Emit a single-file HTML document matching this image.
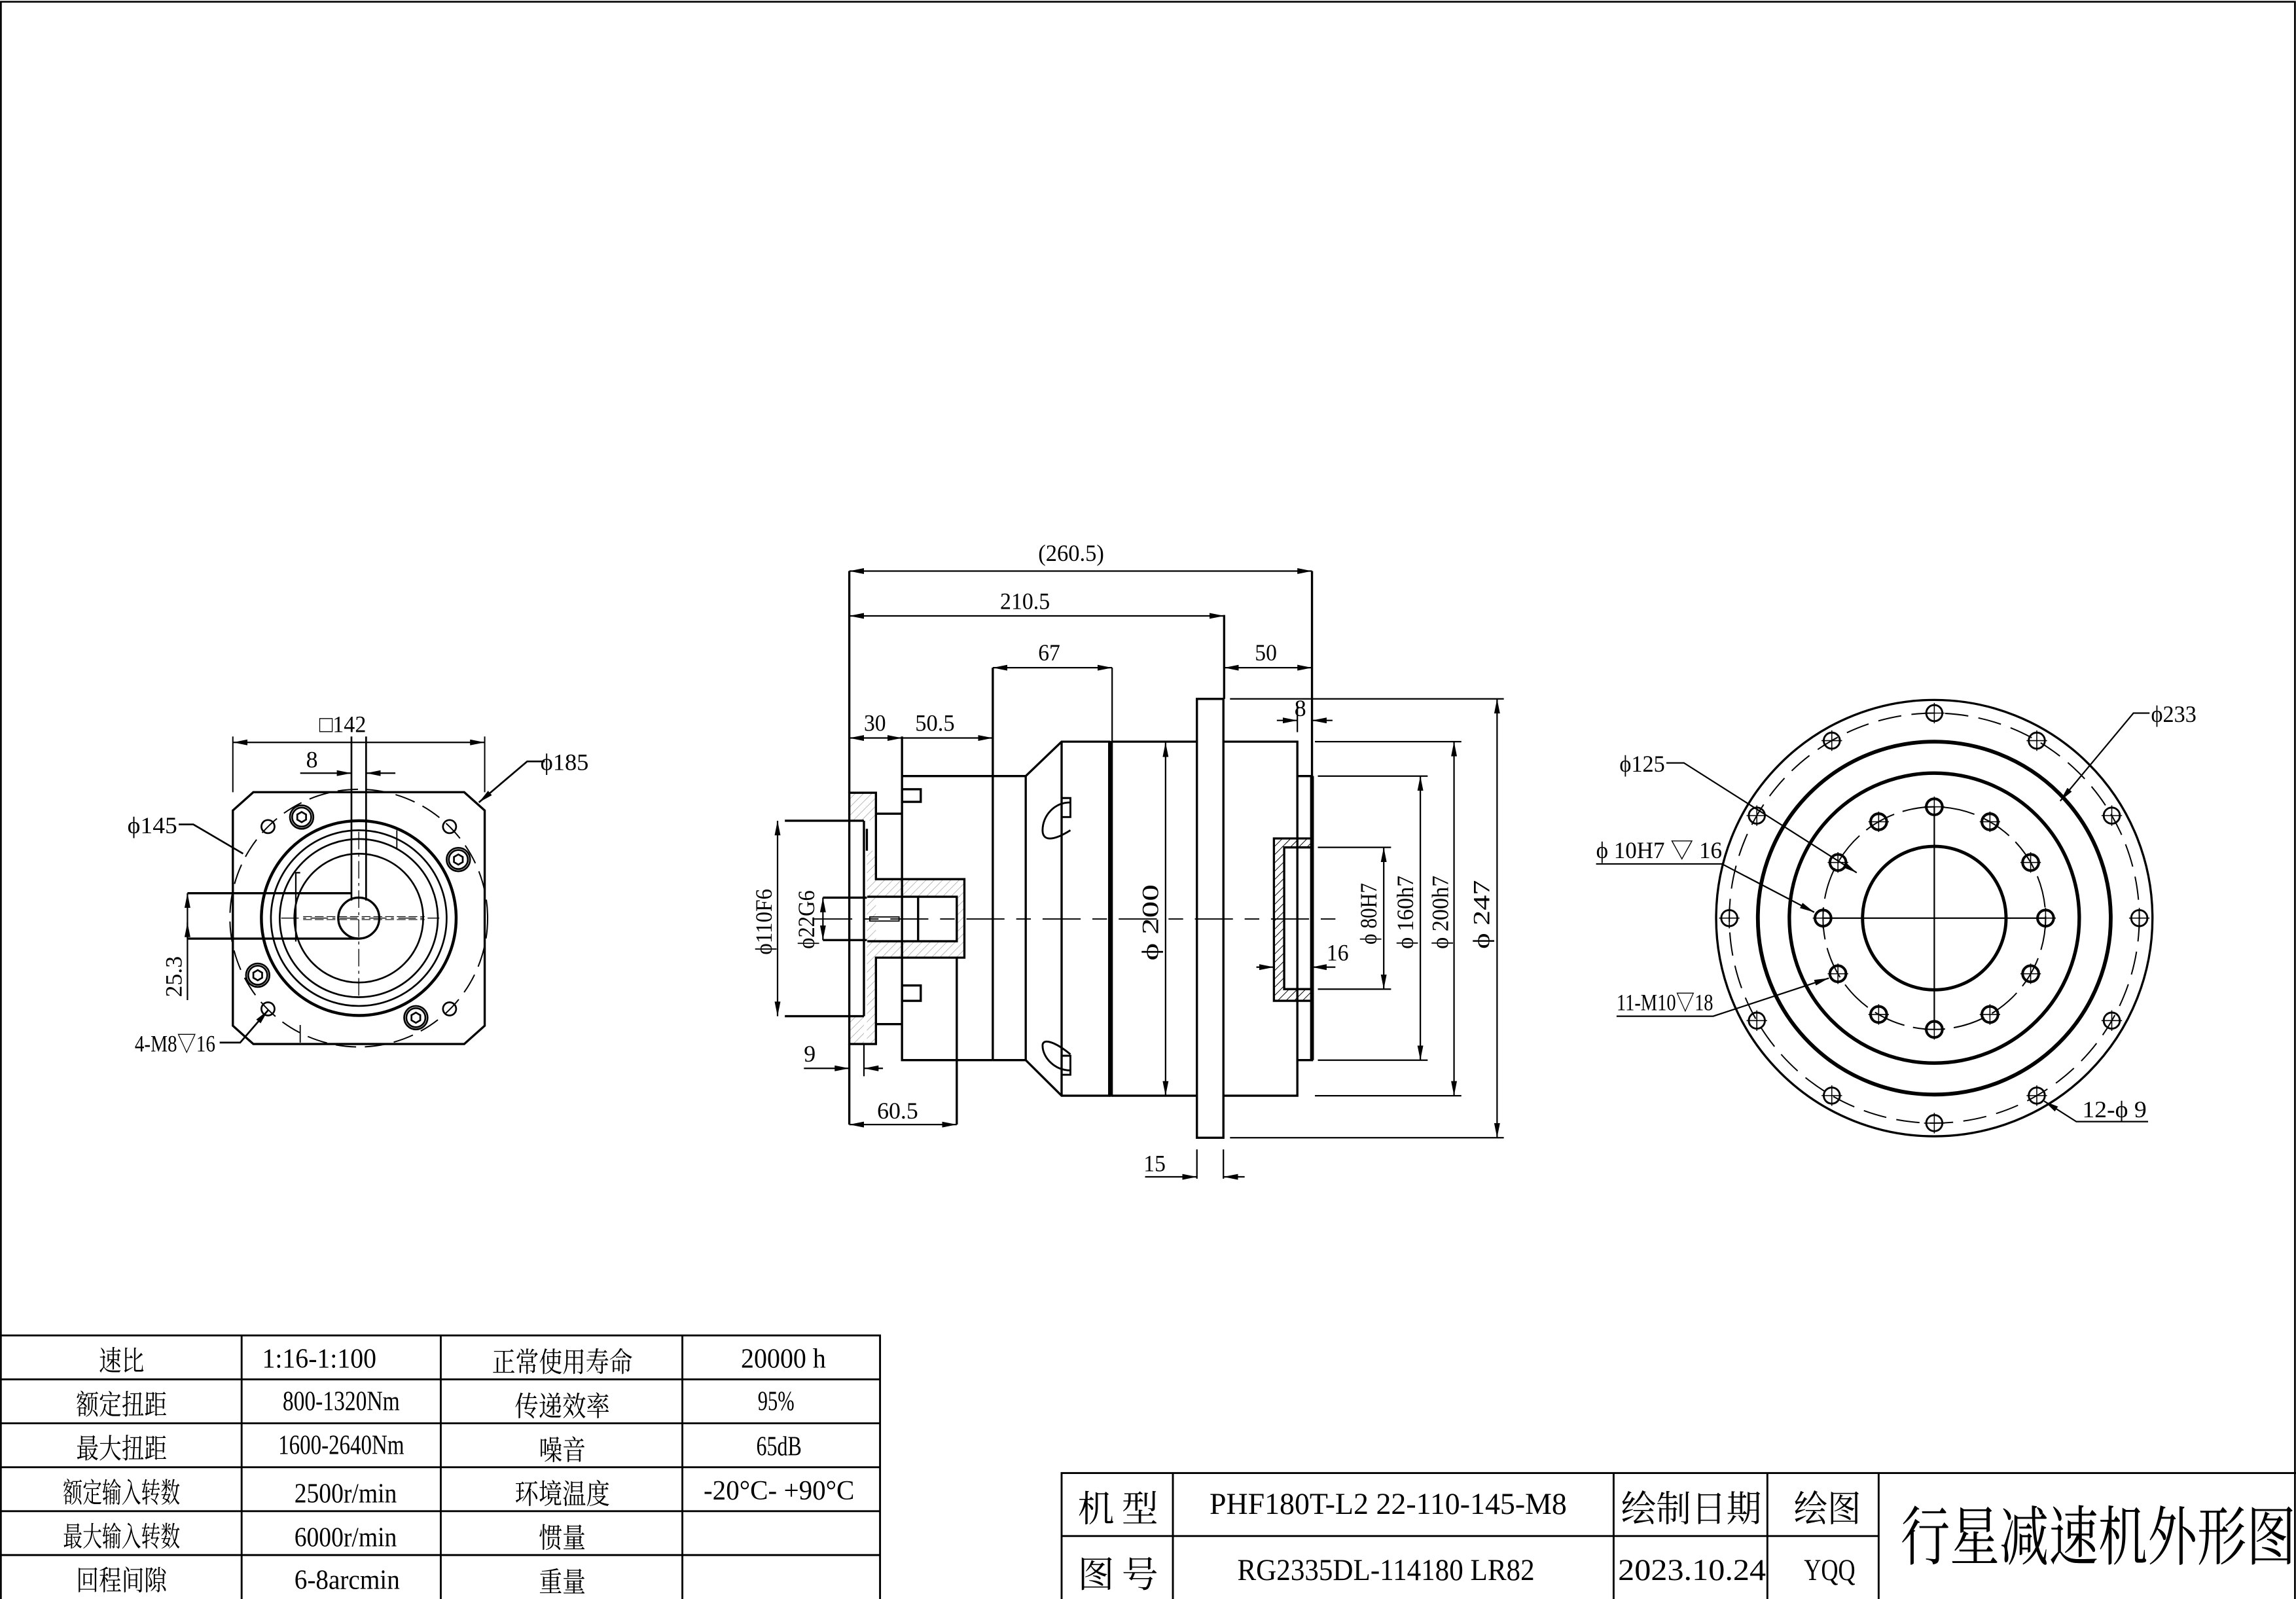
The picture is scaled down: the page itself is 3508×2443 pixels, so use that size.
<!DOCTYPE html>
<html><head><meta charset="utf-8"><style>
html,body{margin:0;padding:0;background:#fff}
svg{display:block}
text{font-family:"Liberation Serif","Noto Serif CJK SC","Noto Sans CJK SC",serif;fill:#000}
</style></head><body>
<svg width="3508" height="2443" viewBox="0 0 1568 1092" xmlns="http://www.w3.org/2000/svg">
<defs>
<marker id="a" viewBox="0 0 10 4" refX="10" refY="2" markerWidth="10" markerHeight="4" markerUnits="userSpaceOnUse" orient="auto-start-reverse"><path d="M0,0L10,2L0,4z" fill="#000"/></marker>
<pattern id="h" width="4" height="4" patternUnits="userSpaceOnUse" patternTransform="rotate(45)"><line x1="0" y1="0" x2="0" y2="4" stroke="#999" stroke-width="0.6"/></pattern>
<pattern id="h2" width="4" height="4" patternUnits="userSpaceOnUse" patternTransform="rotate(45)"><line x1="0" y1="0" x2="0" y2="4" stroke="#000" stroke-width="0.9"/></pattern>
</defs>
<rect x="0" y="0" width="1568" height="1092" fill="#fff"/>
<path d="M0.6,1092V1.2H1567.3V1092" fill="none" stroke="#000" stroke-width="1.2"/>

<!-- LEFT VIEW -->
<g fill="none" stroke="#000">
<path d="M173,541H317L331,553.5V700.5L317,713H173L159,700.5V553.5Z" stroke-width="1.5"/>
<circle cx="245" cy="627" r="88" stroke-width="0.9" stroke-dasharray="14,6"/>
<circle cx="245" cy="627" r="66.5" stroke-width="2"/>
<circle cx="245" cy="627" r="60" stroke-width="1.2"/>
<circle cx="245" cy="627" r="54" stroke-width="1.2"/>
<circle cx="245" cy="627" r="44" stroke-width="1.2"/>
<path d="M240,610V596M250,610V596" stroke-width="0.6"/>
<circle cx="245" cy="627" r="14" stroke-width="1.5"/>
<path d="M202,643V596H205" stroke-width="1"/>
<path d="M271,567V580M205,700V712" stroke-width="0.8"/>
<circle cx="183" cy="564.5" r="4.5" stroke-width="1.2"/><circle cx="307" cy="564.5" r="4.5" stroke-width="1.2"/>
<circle cx="183" cy="689" r="4.5" stroke-width="1.2"/><circle cx="307" cy="689" r="4.5" stroke-width="1.2"/>
<g stroke-width="1.2">
<circle cx="206" cy="558" r="8"/><circle cx="206" cy="558" r="6.5"/><path d="M206,554.5l3,1.75v3.5l-3,1.75l-3,-1.75v-3.5z"/>
<circle cx="313" cy="587" r="8"/><circle cx="313" cy="587" r="6.5"/><path d="M313,583.5l3,1.75v3.5l-3,1.75l-3,-1.75v-3.5z"/>
<circle cx="176" cy="666" r="8"/><circle cx="176" cy="666" r="6.5"/><path d="M176,662.5l3,1.75v3.5l-3,1.75l-3,-1.75v-3.5z"/>
<circle cx="284" cy="695" r="8"/><circle cx="284" cy="695" r="6.5"/><path d="M284,691.5l3,1.75v3.5l-3,1.75l-3,-1.75v-3.5z"/>
</g>
<path d="M192,627H300M245,568V680" stroke-width="0.6" stroke-dasharray="12,3,2,3"/>
<path d="M207,626H290M207,628H290" stroke-width="0.5" stroke-dasharray="6,2"/>
<path d="M240,503V615M250,503V615" stroke-width="1.2"/>
<path d="M128,610H240M128,641H245" stroke-width="1.5"/>
<path d="M159,503V541M331,503V541" stroke-width="0.9"/>
<path d="M159,507H331" stroke-width="1" marker-start="url(#a)" marker-end="url(#a)"/>
<path d="M205,528H240" stroke-width="1" marker-end="url(#a)"/>
<path d="M270,528H250" stroke-width="1" marker-end="url(#a)"/>
<path d="M128,610V683" stroke-width="1" marker-start="url(#a)"/>
<path d="M128,641V630" stroke-width="1" marker-end="url(#a)"/>
<path d="M122,563H132L166,583" stroke-width="1.2"/>
<path d="M372,520H360L327,548" stroke-width="1.2" marker-end="url(#a)"/>
<path d="M150,712H164L183,690" stroke-width="1.2" marker-end="url(#a)"/>
</g>
<text x="218" y="500" font-size="16" textLength="32" lengthAdjust="spacingAndGlyphs">□142</text>
<text x="209" y="524" font-size="16" textLength="8" lengthAdjust="spacingAndGlyphs">8</text>
<text x="87" y="569" font-size="16" textLength="34" lengthAdjust="spacingAndGlyphs">ϕ145</text>
<text x="369" y="526" font-size="16" textLength="33" lengthAdjust="spacingAndGlyphs">ϕ185</text>
<text x="92" y="718" font-size="16" textLength="55" lengthAdjust="spacingAndGlyphs">4-M8▽16</text>
<text transform="translate(124,681) rotate(-90)" font-size="16" textLength="28" lengthAdjust="spacingAndGlyphs">25.3</text>

<!-- MIDDLE VIEW -->
<g fill="none" stroke="#000">
<g stroke="none" fill="url(#h)">
<rect x="580" y="541.4" width="18.2" height="19"/>
<rect x="592" y="581" width="6.2" height="132"/>
<rect x="580" y="694" width="10" height="19"/>
<rect x="598" y="600.4" width="60.6" height="12"/>
<rect x="598" y="642" width="60.6" height="12"/>
<rect x="653.4" y="612" width="5.2" height="30"/>
</g>
<g stroke-width="1.5">
<path d="M580,390V541.4M580,713V768"/>
<path d="M580,541.4H598.2V600.4H658.6V654H598.2V713H580Z"/>
<path d="M592,566V581M590,560.5V694"/>
<path d="M598.2,555.7H616M598.2,699.4H616"/>
<path d="M616,503V724H678"/>
<path d="M616,530H678"/>
<rect x="616" y="539" width="12.8" height="8.6"/>
<rect x="616" y="673" width="12.8" height="10.5"/>
<path d="M592.3,612.4H653.4V642.8H592.3"/>
<path d="M627,612.4V642.8"/>
<path d="M653.4,654V768"/>
<path d="M536,560.5H590M536,694H590"/>
<path d="M562,613H592M562,642H592"/>
<rect x="594" y="626.2" width="20" height="2.8" stroke-width="0.8"/>
<path d="M678,456V724M678,530H700.5V724H678"/>
<path d="M700.5,530L725,506.5H757.5V748.3H725L700.5,724"/>
<path d="M725,506.5V748.3"/>
<path d="M759.5,506.5H817.4M759.5,748.3H817.4"/>
<rect x="817.4" y="477.3" width="18.1" height="299.7"/>
<path d="M835.5,506.5H886V748.3H835.5"/>
<path d="M886,530H896V724H886"/>
<path d="M836,420V477.3"/>
<path d="M896,390V530"/>
</g>
<rect x="757.2" y="506" width="2.8" height="243" fill="#000" stroke="none"/>
<path d="M896,530V724" stroke-width="2.6"/>
<path d="M870,572.6H896V683.5H870Z M877,578.7H896V675.5H877Z" fill="url(#h2)" fill-rule="evenodd" stroke="#000" stroke-width="1.5"/>
<path d="M725,545H731V558H725M731,548C720,548 712,557 712,567C712,575 720,574 731,567" stroke-width="1.3"/>
<path d="M725,734H731V721H725M731,731C720,731 712,722 712,714C712,709 720,711 731,720" stroke-width="1.3"/>
<path d="M556,627.6H920" stroke-width="0.8" stroke-dasharray="26,8,10,8"/>
<g stroke-width="1">
<path d="M580,390H896" marker-start="url(#a)" marker-end="url(#a)"/>
<path d="M580,420.6H836" marker-start="url(#a)" marker-end="url(#a)"/>
<path d="M678,456H759.5" marker-start="url(#a)" marker-end="url(#a)"/>
<path d="M759.5,456V506"/>
<path d="M836,456H896" marker-start="url(#a)" marker-end="url(#a)"/>
<path d="M580,504H616" marker-start="url(#a)" marker-end="url(#a)"/>
<path d="M616,504H678" marker-end="url(#a)"/>
<path d="M872,492H886" marker-end="url(#a)"/>
<path d="M910,492H896" marker-end="url(#a)"/>
<path d="M886,482V500"/>
<path d="M549,729.6H580" marker-end="url(#a)"/>
<path d="M603,729.6H590" marker-end="url(#a)"/>
<path d="M590,713V735"/>
<path d="M580,768H653.4" marker-start="url(#a)" marker-end="url(#a)"/>
<path d="M817.4,785V805M835.5,785V805"/>
<path d="M782,803.7H817.4" marker-end="url(#a)"/>
<path d="M850,803.7H835.5" marker-end="url(#a)"/>
<path d="M796,507V748.3" marker-start="url(#a)" marker-end="url(#a)"/>
<path d="M840,477.3H1027M840,777H1027"/>
<path d="M1022.4,477.3V777" marker-start="url(#a)" marker-end="url(#a)"/>
<path d="M898,506.5H998M898,748.3H998"/>
<path d="M993,506.5V748.3" marker-start="url(#a)" marker-end="url(#a)"/>
<path d="M900,530H975M900,724H975"/>
<path d="M970,530V724" marker-start="url(#a)" marker-end="url(#a)"/>
<path d="M900,578.7H950M900,675.5H950"/>
<path d="M945,578.7V675.5" marker-start="url(#a)" marker-end="url(#a)"/>
<path d="M858,660.5H870" marker-end="url(#a)"/>
<path d="M912,660.5H896" marker-end="url(#a)"/>
<path d="M531,560.5V694" marker-start="url(#a)" marker-end="url(#a)"/>
<path d="M562,613V642" marker-start="url(#a)" marker-end="url(#a)"/>
</g>
</g>
<g font-size="16">
<text x="709" y="383" textLength="45" lengthAdjust="spacingAndGlyphs">(260.5)</text>
<text x="683" y="416" textLength="34" lengthAdjust="spacingAndGlyphs">210.5</text>
<text x="709" y="451" textLength="15" lengthAdjust="spacingAndGlyphs">67</text>
<text x="857" y="451" textLength="15" lengthAdjust="spacingAndGlyphs">50</text>
<text x="590" y="499" textLength="15" lengthAdjust="spacingAndGlyphs">30</text>
<text x="625" y="499" textLength="27" lengthAdjust="spacingAndGlyphs">50.5</text>
<text x="884" y="489" textLength="8" lengthAdjust="spacingAndGlyphs">8</text>
<text x="549" y="725" textLength="8" lengthAdjust="spacingAndGlyphs">9</text>
<text x="599" y="764" textLength="28" lengthAdjust="spacingAndGlyphs">60.5</text>
<text x="781" y="800" textLength="15" lengthAdjust="spacingAndGlyphs">15</text>
<text x="906" y="656" textLength="15" lengthAdjust="spacingAndGlyphs">16</text>
<text transform="translate(527,652) rotate(-90)" textLength="45" lengthAdjust="spacingAndGlyphs">ϕ110F6</text>
<text transform="translate(556,648) rotate(-90)" textLength="40" lengthAdjust="spacingAndGlyphs">ϕ22G6</text>
<text transform="translate(791,656) rotate(-90)" textLength="52" lengthAdjust="spacingAndGlyphs">ϕ 200</text>
<text transform="translate(940,645) rotate(-90)" textLength="42" lengthAdjust="spacingAndGlyphs">ϕ 80H7</text>
<text transform="translate(965,648) rotate(-90)" textLength="50" lengthAdjust="spacingAndGlyphs">ϕ 160h7</text>
<text transform="translate(989,648) rotate(-90)" textLength="50" lengthAdjust="spacingAndGlyphs">ϕ 200h7</text>
<text transform="translate(1017,648) rotate(-90)" textLength="47" lengthAdjust="spacingAndGlyphs">ϕ 247</text>
</g>

<!-- RIGHT VIEW -->
<g fill="none" stroke="#000">
<circle cx="1321" cy="627" r="149" stroke-width="1.5"/>
<circle cx="1321" cy="627" r="140" stroke-width="0.9" stroke-dasharray="16,7"/>
<circle cx="1321" cy="627" r="120.5" stroke-width="2.6"/>
<circle cx="1321" cy="627" r="99" stroke-width="2.4"/>
<circle cx="1321" cy="627" r="76" stroke-width="0.9" stroke-dasharray="22,6"/>
<circle cx="1321" cy="627" r="49" stroke-width="2.2"/>
<path d="M1321,551V703M1245,627H1397" stroke-width="1"/>
<g stroke-width="1.3">
<circle cx="1321" cy="487" r="5.5"/><circle cx="1391" cy="505.8" r="5.5"/><circle cx="1442.2" cy="557" r="5.5"/><circle cx="1461" cy="627" r="5.5"/><circle cx="1442.2" cy="697" r="5.5"/><circle cx="1391" cy="748.2" r="5.5"/><circle cx="1321" cy="767" r="5.5"/><circle cx="1251" cy="748.2" r="5.5"/><circle cx="1199.8" cy="697" r="5.5"/><circle cx="1181" cy="627" r="5.5"/><circle cx="1199.8" cy="557" r="5.5"/><circle cx="1251" cy="505.8" r="5.5"/>
</g>
<g stroke-width="1.8">
<circle cx="1321" cy="551" r="5.5"/><circle cx="1359" cy="561.2" r="5.5"/><circle cx="1386.8" cy="589" r="5.5"/><circle cx="1397" cy="627" r="5.5"/><circle cx="1386.8" cy="665" r="5.5"/><circle cx="1359" cy="692.8" r="5.5"/><circle cx="1321" cy="703" r="5.5"/><circle cx="1283" cy="692.8" r="5.5"/><circle cx="1255.2" cy="665" r="5.5"/><circle cx="1245" cy="627" r="5.5"/><circle cx="1255.2" cy="589" r="5.5"/><circle cx="1283" cy="561.2" r="5.5"/>
</g>
<g stroke-width="0.7">
<path d="M1321,480v14M1314,487h14M1391,498.8v14M1384,505.8h14M1442.2,550v14M1435.2,557h14M1461,620v14M1454,627h14M1442.2,690v14M1435.2,697h14M1391,741.2v14M1384,748.2h14M1321,760v14M1314,767h14M1251,741.2v14M1244,748.2h14M1199.8,690v14M1192.8,697h14M1181,620v14M1174,627h14M1199.8,550v14M1192.8,557h14M1251,498.8v14M1244,505.8h14"/>
<path d="M1321,544v14M1314,551h14M1359,554.2v14M1352,561.2h14M1386.8,582v14M1379.8,589h14M1397,620v14M1390,627h14M1386.8,658v14M1379.8,665h14M1359,685.8v14M1352,692.8h14M1321,696v14M1314,703h14M1283,685.8v14M1276,692.8h14M1255.2,658v14M1248.2,665h14M1245,620v14M1238,627h14M1255.2,582v14M1248.2,589h14M1283,554.2v14M1276,561.2h14"/>
</g>
<g stroke-width="1">
<path d="M1468,487H1457L1407,547" marker-end="url(#a)"/>
<path d="M1138,521H1150L1268,596" marker-end="url(#a)"/>
<path d="M1090,590H1176L1239,623" marker-end="url(#a)"/>
<path d="M1104,694H1170L1249,668" marker-end="url(#a)"/>
<path d="M1467,766H1418L1396,752" marker-end="url(#a)"/>
</g>
</g>
<g font-size="16">
<text x="1469" y="493" textLength="31" lengthAdjust="spacingAndGlyphs">ϕ233</text>
<text x="1106" y="527" textLength="31" lengthAdjust="spacingAndGlyphs">ϕ125</text>
<text x="1090" y="586" textLength="86" lengthAdjust="spacingAndGlyphs">ϕ  10H7 ▽ 16</text>
<text x="1104" y="690" textLength="66" lengthAdjust="spacingAndGlyphs">11-M10▽18</text>
<text x="1422" y="763" textLength="44" lengthAdjust="spacingAndGlyphs">12-ϕ 9</text>
</g>

<!-- SPEC TABLE -->
<g fill="none" stroke="#000">
<path d="M0,912H601V1092M0,942H601M0,972H601M0,1002H601M0,1032H601M0,1062H601M165,912V1092M301,912V1092M466,912V1092" stroke-width="1.3"/>
</g>
<g font-size="19" text-anchor="middle">
<text x="83" y="936" textLength="31" lengthAdjust="spacingAndGlyphs">速比</text>
<text x="83" y="966" textLength="62" lengthAdjust="spacingAndGlyphs">额定扭距</text>
<text x="83" y="996" textLength="62" lengthAdjust="spacingAndGlyphs">最大扭距</text>
<text x="83" y="1026" textLength="80" lengthAdjust="spacingAndGlyphs">额定输入转数</text>
<text x="83" y="1056" textLength="80" lengthAdjust="spacingAndGlyphs">最大输入转数</text>
<text x="83" y="1086" textLength="62" lengthAdjust="spacingAndGlyphs">回程间隙</text>
<text x="218" y="934" textLength="78" lengthAdjust="spacingAndGlyphs">1:16-1:100</text>
<text x="233" y="963" textLength="80" lengthAdjust="spacingAndGlyphs">800-1320Nm</text>
<text x="233" y="993" textLength="86" lengthAdjust="spacingAndGlyphs">1600-2640Nm</text>
<text x="236" y="1026" textLength="70" lengthAdjust="spacingAndGlyphs">2500r/min</text>
<text x="236" y="1056" textLength="70" lengthAdjust="spacingAndGlyphs">6000r/min</text>
<text x="237" y="1085" textLength="72" lengthAdjust="spacingAndGlyphs">6-8arcmin</text>
<text x="384" y="937" textLength="96" lengthAdjust="spacingAndGlyphs">正常使用寿命</text>
<text x="384" y="967" textLength="65" lengthAdjust="spacingAndGlyphs">传递效率</text>
<text x="384" y="997" textLength="32" lengthAdjust="spacingAndGlyphs">噪音</text>
<text x="384" y="1027" textLength="65" lengthAdjust="spacingAndGlyphs">环境温度</text>
<text x="384" y="1057" textLength="32" lengthAdjust="spacingAndGlyphs">惯量</text>
<text x="384" y="1087" textLength="32" lengthAdjust="spacingAndGlyphs">重量</text>
<text x="535" y="934" textLength="58" lengthAdjust="spacingAndGlyphs">20000 h</text>
<text x="530" y="963" textLength="25" lengthAdjust="spacingAndGlyphs">95%</text>
<text x="532" y="994" textLength="31" lengthAdjust="spacingAndGlyphs">65dB</text>
<text x="532" y="1024" textLength="103" lengthAdjust="spacingAndGlyphs">-20°C- +90°C</text>
</g>

<!-- TITLE BLOCK -->
<g fill="none" stroke="#000">
<path d="M725,1092V1006H1568M725,1049H1283M801,1006V1092M1102,1006V1092M1207,1006V1092M1283,1006V1092" stroke-width="1.3"/>
</g>
<g font-size="25">
<text x="736" y="1039" textLength="55" lengthAdjust="spacing">机 型</text>
<text x="736" y="1084" textLength="55" lengthAdjust="spacing">图 号</text>
<text x="1107" y="1039" textLength="96" lengthAdjust="spacingAndGlyphs">绘制日期</text>
<text x="1225" y="1039" textLength="46" lengthAdjust="spacingAndGlyphs">绘图</text>
</g>
<g font-size="21">
<text x="826" y="1034" textLength="244" lengthAdjust="spacingAndGlyphs">PHF180T-L2 22-110-145-M8</text>
<text x="845" y="1079" textLength="203" lengthAdjust="spacingAndGlyphs">RG2335DL-114180 LR82</text>
<text x="1105" y="1079" textLength="101" lengthAdjust="spacingAndGlyphs">2023.10.24</text>
<text x="1232" y="1079" textLength="35" lengthAdjust="spacingAndGlyphs">YQQ</text>
</g>
<text x="1298" y="1065" font-size="44" textLength="270" lengthAdjust="spacingAndGlyphs">行星减速机外形图</text>
</svg>
</body></html>
